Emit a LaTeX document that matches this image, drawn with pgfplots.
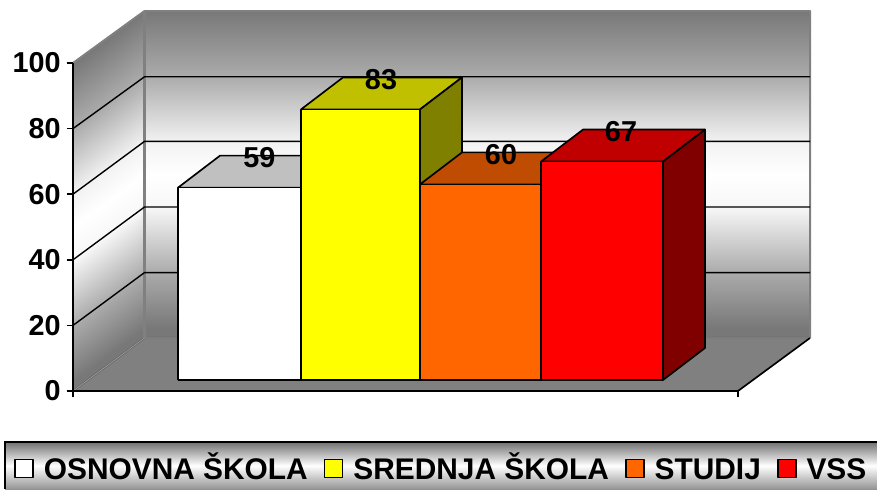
\documentclass[border=0pt]{standalone}
\usepackage{pgfplots}
\usepackage{pgfplotstable}
\usepackage{fontspec}
\setmainfont{Liberation Sans}
\pgfplotsset{compat=1.18}
\newcommand{\labfont}{\bfseries\fontsize{21.6}{21.6}\selectfont}
\newcommand{\legfont}{\bfseries\fontsize{22.4}{22.4}\selectfont}
\definecolor{wallgray}{HTML}{808080}
\definecolor{edgegray}{HTML}{666666}
\definecolor{baryellow}{HTML}{FFFF00}
\definecolor{barred}{HTML}{FF0000}
\definecolor{barorange}{HTML}{FF6600}
\definecolor{toporange}{HTML}{BF4C00}
\definecolor{sideorange}{HTML}{803300}
\definecolor{topyellow}{HTML}{C0C000}
\definecolor{sideyellow}{HTML}{808000}
\definecolor{topred}{HTML}{C00000}
\definecolor{sidered}{HTML}{800000}
\definecolor{topwhite}{HTML}{C0C0C0}
\definecolor{sidewhite}{HTML}{808080}
\pgfdeclareverticalshading{wallshade}{100bp}{
  color(0bp)=(black!53);
  color(25bp)=(black!53);
  color(26.5bp)=(black!53);
  color(35bp)=(black!33);
  color(45bp)=(black!3);
  color(50bp)=(black!0);
  color(55bp)=(black!5);
  color(65bp)=(black!33);
  color(75bp)=(black!53);
  color(100bp)=(black!53)}
\pgfdeclareverticalshading{bandshade}{100bp}{
  color(0bp)=(black!42);
  color(25bp)=(black!42);
  color(50bp)=(white);
  color(75bp)=(black!55);
  color(100bp)=(black!55)}
% data labels
\pgfplotstableread{
x v
259.5 59
381 83
501 60
621 67
}\vlabels
\newcommand{\barbox}[7]{%
  \pgfmathsetmacro\yb{3.354}%
  \pgfmathsetmacro\yt{3.354+0.9939*#3}%
  \pgfmathsetmacro\ybb{3.354+9.756}%
  \pgfmathsetmacro\ytb{\yt+9.756}%
  \pgfmathsetmacro\xa{#1+42}%
  \pgfmathsetmacro\xb{#2+42}%
  \addplot[fill=#5,draw=black,line width=1.25pt,line join=round,forget plot] coordinates {(#1,\yt) (\xa,\ytb) (\xb,\ytb) (#2,\yt) (#1,\yt)};
  \addplot[fill=#6,draw=black,line width=1.25pt,line join=round,forget plot] coordinates {(#2,\yb) (\xb,\ybb) (\xb,\ytb) (#2,\yt) (#2,\yb)};
  \addplot[fill=#4,draw=black,line width=1.25pt,line join=round] coordinates {(#1,\yb) (#1,\yt) (#2,\yt) (#2,\yb) (#1,\yb)};
  \addlegendentry{#7}
}
\begin{document}
\begin{tikzpicture}
\useasboundingbox (-54.75pt,-73.5pt) rectangle (603pt,293.25pt);
\begin{axis}[
  scale only axis, width=498.75pt, height=246pt,
  xmin=73, xmax=738, ymin=0, ymax=100,
  clip=false, axis on top,
  axis x line=bottom, axis y line=left,
  axis line style={-,line width=1.25pt,black},
  xtick={73,738}, xticklabels={,},
  ytick={0,20,...,100},
  tick align=outside,
  major tick length=4.8pt,
  every tick/.style={black,line width=1.1pt},
  yticklabel style={font=\labfont,text=black,xshift=-1pt},
  /pgf/number format/assume math mode=true,
  legend image code/.code={\draw[#1] (0pt,-6.75pt) rectangle (13.5pt,6.75pt);},
  legend columns=-1,
  legend cell align=left,
  legend style={at={(axis cs:14,-23.6)},anchor=west,draw=none,fill=none,inner sep=0pt,
    font=\legfont,
    nodes={inner sep=0pt,outer sep=0pt,text height=16pt,text depth=0pt},
    /tikz/every odd column/.style={column sep=7.5pt},
    /tikz/every even column/.style={column sep=12pt}},
]
% walls: the left wall is the same shading, skewed along its slanted edges
\addplot[shading=wallshade,draw=none,forget plot,/tikz/transform canvas={cm={1,0.7343,0,1,(0pt,-37.7pt)}}]
  coordinates {(73,0) (73,100) (144.5,100) (144.5,0) (73,0)};
\addplot[shading=wallshade,draw=none,forget plot]
  coordinates {(144.5,16.16) (144.5,115.85) (810,115.85) (810,16.16) (144.5,16.16)};
% floor
\addplot[fill=wallgray,draw=none,forget plot] coordinates {(73,0) (144.5,16.16) (810,16.16) (738,0) (73,0)};
% wall edges
\addplot[draw=edgegray,line width=1.5pt,forget plot] coordinates {(73,0) (144.5,16.16) (810,16.16)};
\addplot[draw=wallgray!70!white,line width=0.4pt,forget plot] coordinates {(73,0) (144.5,16.16) (810,16.16)};
\addplot[draw=wallgray,line width=1.5pt,line join=round,forget plot] coordinates {(73,100) (144.5,115.85) (810,115.85) (810,16.16)};
\addplot[draw=wallgray,line width=2pt,forget plot] coordinates {(144.5,16.16) (144.5,115.85)};
\addplot[draw=black,line width=1.25pt,forget plot] coordinates {(738,0) (810,16.16)};
% grid lines
\addplot[draw=black,line width=1.05pt,forget plot] coordinates {(73,20) (144.5,36.1) (810,36.1)};
\addplot[draw=black,line width=1.05pt,forget plot] coordinates {(73,40) (144.5,56.1) (810,56.1)};
\addplot[draw=black,line width=1.05pt,forget plot] coordinates {(73,60) (144.5,76.1) (810,76.1)};
\addplot[draw=black,line width=1.05pt,forget plot] coordinates {(73,80) (144.5,95.8) (810,95.8)};
% legend band
\addplot[shading=bandshade,draw=none,forget plot]
  coordinates {(5,-15.6) (5,-29.9) (880,-29.9) (880,-15.6) (5,-15.6)};
\addplot[draw=black,line width=1.25pt,forget plot] coordinates {(5,-29.9) (5,-15.6) (880,-15.6)};
% bars
\barbox{178}{301}{59}{white}{topwhite}{sidewhite}{OSNOVNA ŠKOLA}
\barbox{301}{420}{83}{baryellow}{topyellow}{sideyellow}{SREDNJA ŠKOLA}
\barbox{420}{541}{60}{barorange}{toporange}{sideorange}{STUDIJ}
\barbox{541}{663}{67}{barred}{topred}{sidered}{VSS}
% value labels
\addplot[draw=none,mark=none,forget plot,point meta=explicit,
  nodes near coords,
  nodes near coords style={font=\labfont,text=black,anchor=center,inner sep=0pt}]
  table[x=x,y expr={\thisrow{v}*0.9939+12.5},meta=v] {\vlabels};
\end{axis}
\end{tikzpicture}
\end{document}
